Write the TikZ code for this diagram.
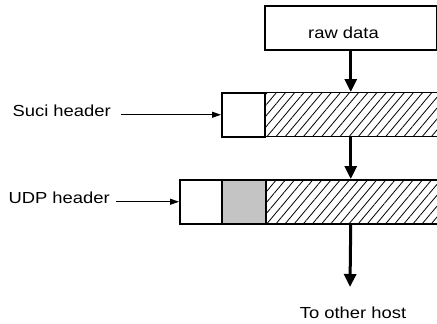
\documentclass[tikz,border=0pt]{standalone}
\usepackage{graphicx}
\usepackage{fontspec}
\setmainfont{Liberation Sans}
\usetikzlibrary{arrows.meta,patterns.meta}

% slightly widened sans text
\newcommand{\wtext}[1]{\scalebox{1.15}[1]{#1}}

\begin{document}
\begin{tikzpicture}[x=1pt,y=-1pt,
  lbl/.style={font=\fontsize{16}{19}\selectfont, inner sep=0pt},
  seg/.style={draw, line width=1.5pt, minimum height=44pt, inner sep=0pt,
              anchor=north west, fill=white},
  hatched/.style={seg, pattern={Lines[angle=50,distance=7pt,line width=0.8pt]}},
  stipple/.style={seg, pattern={Dots[distance=2pt,radius=0.55pt]}},
  bigarrow/.style={line width=3pt, -{Triangle[length=13pt,width=12pt]}},
  smallarrow/.style={line width=1.1pt, -{Triangle[length=9pt,width=6pt]}}]
  \useasboundingbox (0,0) rectangle (437,324);
  \clip (0,0) rectangle (437,324);

  % application data
  \node[seg, minimum width=172pt] (raw) at (264,5) {};
  \node[lbl, anchor=base] (rawtxt) at (343.5,38) {\wtext{raw data}};

  % Suci packet: header + data
  \node[seg, minimum width=43pt] (suciHdr) at (221,92) {};
  \node[hatched, minimum width=180pt] (suciData) at (264,92) {};

  % UDP packet: header + Suci header + data
  \node[seg, minimum width=42pt] (udpHdr) at (179,179) {};
  \node[stipple, minimum width=44pt] (udpSuci) at (221,179) {};
  \node[hatched, minimum width=180pt] (udpData) at (265,179) {};

  % side labels
  \node[lbl, anchor=base east] (suciLbl) at (111,116) {\wtext{Suci header}};
  \node[lbl, anchor=base east] (udpLbl) at (110,203) {\wtext{UDP header}};
  \draw[smallarrow] ([xshift=10pt]suciLbl.base east |- suciHdr.west) -- (suciHdr.west);
  \draw[smallarrow] ([xshift=6pt]udpLbl.base east |- udpHdr.west) -- (udpHdr.west);

  % encapsulation flow
  \coordinate (out) at (350,287);
  \draw[bigarrow] (raw.south) -- (raw.south |- suciData.north);
  \draw[bigarrow] (raw.south |- suciData.south) -- (raw.south |- udpData.north);
  \draw[bigarrow] (raw.south |- udpData.south) -- (out);
  \node[lbl, anchor=base] (host) at (353,318) {\wtext{To other host}};
\end{tikzpicture}
\end{document}
